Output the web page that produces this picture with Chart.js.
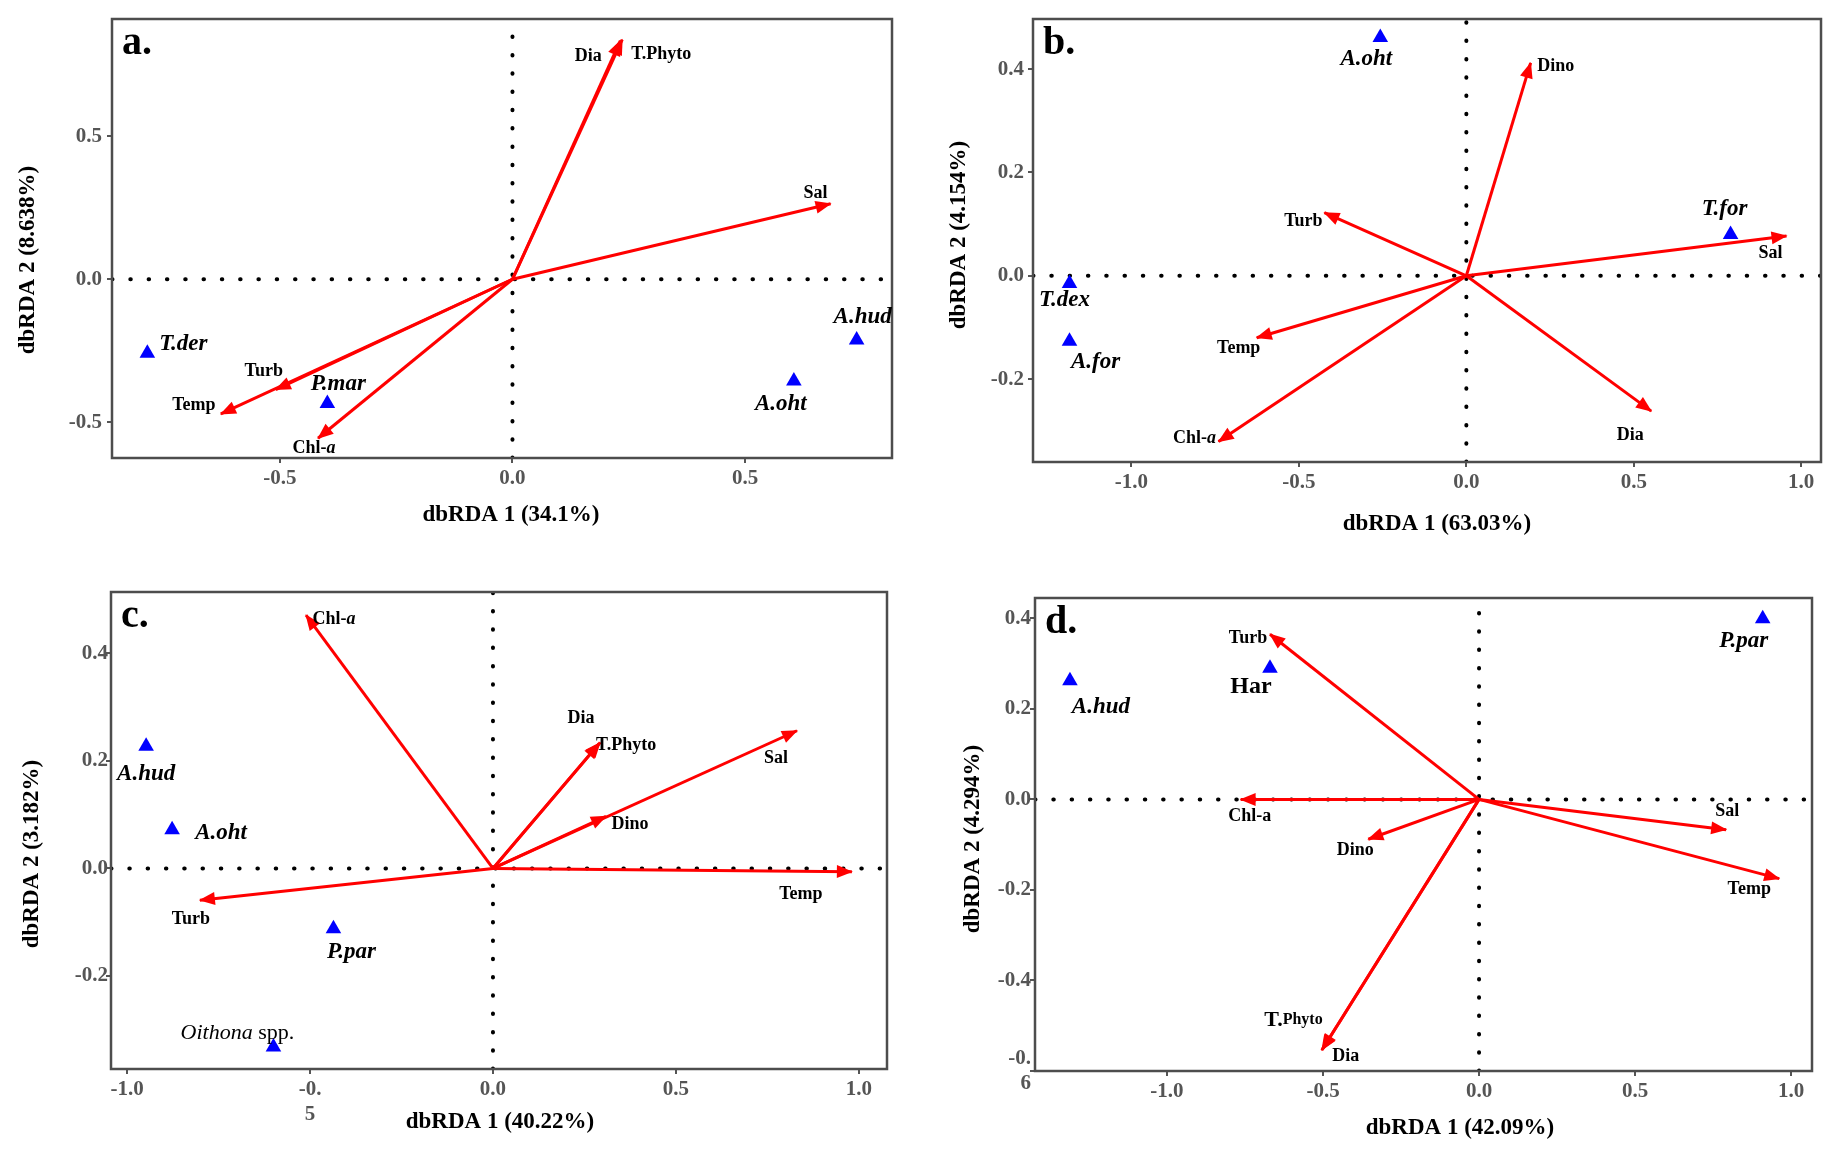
<!DOCTYPE html>
<html>
<head>
<meta charset="utf-8">
<script src="https://cdn.jsdelivr.net/npm/chart.js@4.4.0/dist/chart.umd.min.js"></script>
<style>
  html, body { margin: 0; padding: 0; background: #fff; overflow: hidden; }
  .panel { position: absolute; }
</style>
</head>
<body>
<div class="panel" id="pa" style="left:0px;top:0px;width:923px;height:560px"><canvas id="ca"></canvas></div>
<div class="panel" id="pb" style="left:923px;top:0px;width:924px;height:560px"><canvas id="cb"></canvas></div>
<div class="panel" id="pc" style="left:0px;top:560px;width:923px;height:595px"><canvas id="cc"></canvas></div>
<div class="panel" id="pd" style="left:923px;top:560px;width:924px;height:595px"><canvas id="cd"></canvas></div>
<script>
// ---- panel a ----
const aVarNames = ["Dia", "T.Phyto", "Sal", "Turb", "Temp", "Chl-a"];
const aVarX = [0.232, 0.236, 0.684, -0.509, -0.627, -0.418];
const aVarY = [0.834, 0.838, 0.264, -0.386, -0.471, -0.556];
const aSpNames = ["T.der", "P.mar", "A.oht", "A.hud"];
const aSpX = [-0.785, -0.398, 0.605, 0.740];
const aSpY = [-0.259, -0.434, -0.356, -0.212];
const aXTicks = [-0.5, 0, 0.5];
const aYTicks = [-0.5, 0, 0.5];
const aXRange = [-0.861, 0.816];
const aYRange = [-0.625, 0.910];

// ---- panel b ----
const bVarNames = ["Dino", "Turb", "Sal", "Temp", "Chl-a", "Dia"];
const bVarX = [0.192, -0.424, 0.956, -0.626, -0.740, 0.552];
const bVarY = [0.412, 0.122, 0.077, -0.120, -0.321, -0.262];
const bSpNames = ["A.oht", "T.for", "T.dex", "A.for"];
const bSpX = [-0.257, 0.789, -1.185, -1.185];
const bSpY = [0.461, 0.080, -0.015, -0.127];
const bXTicks = [-1, -0.5, 0, 0.5, 1];
const bYTicks = [-0.2, 0, 0.2, 0.4];
const bXRange = [-1.294, 1.059];
const bYRange = [-0.3605, 0.497];

// ---- panel c ----
const cVarNames = ["Chl-a", "Dia", "T.Phyto", "Sal", "Dino", "Temp", "Turb"];
const cVarX = [-0.511, 0.290, 0.293, 0.831, 0.309, 0.981, -0.801];
const cVarY = [0.471, 0.232, 0.234, 0.256, 0.097, -0.006, -0.059];
const cSpNames = ["A.hud", "A.oht", "P.par", "Oithona spp."];
const cSpX = [-0.948, -0.877, -0.436, -0.600];
const cSpY = [0.227, 0.072, -0.112, -0.332];
const cXTicks = [-1, -0.5, 0, 0.5, 1];
const cYTicks = [-0.2, 0, 0.2, 0.4];
const cXRange = [-1.044, 1.077];
const cYRange = [-0.373, 0.514];

// ---- panel d ----
const dVarNames = ["Turb", "Chl-a", "Dino", "Sal", "Temp", "T.Phyto", "Dia"];
const dVarX = [-0.670, -0.764, -0.355, 0.792, 0.962, -0.502, -0.504];
const dVarY = [0.365, 0.000, -0.088, -0.067, -0.175, -0.552, -0.554];
const dSpNames = ["A.hud", "Har", "P.par"];
const dSpX = [-1.311, -0.670, 0.909];
const dSpY = [0.262, 0.290, 0.399];
const dXTicks = [-1, -0.5, 0, 0.5, 1];
const dYTicks = [-0.6, -0.4, -0.2, 0, 0.2, 0.4];
const dXRange = [-1.423, 1.067];
const dYRange = [-0.600, 0.445];

const SERIF = '"Liberation Serif", "Times New Roman", serif';
const VAR_FONT = "bold 18px " + SERIF;
const SP_FONT = "italic bold 23px " + SERIF;
const TITLE_FONT = "bold 23px " + SERIF;

// label offsets from the point, in pixels (label centre)
const panels = [
  {
    canvas: "ca", cont: [0, 0, 923, 560], box: [112, 19, 892, 458],
    letter: "a.", xTitle: "dbRDA 1 (34.1%)", yTitle: "dbRDA 2 (8.638%)",
    xTitlePos: [511, 515], yTitlePos: [28, 260], yTickPad: 5,
    varNames: aVarNames, varX: aVarX, varY: aVarY,
    spNames: aSpNames, spX: aSpX, spY: aSpY,
    xTicks: aXTicks, yTicks: aYTicks, xRange: aXRange, yRange: aYRange,
    varOff: [[-32, 16], [39, 15], [-15, -10], [-12, -18], [-27, -9], [-4, 10]],
    spOff: [[36, -9], [11, -19], [-13, 23], [6, -23]],
    chlItalic: true, bigT: false, broken: {}
  },
  {
    canvas: "cb", cont: [923, 0, 924, 560], box: [1033, 19, 1821, 462],
    letter: "b.", xTitle: "dbRDA 1 (63.03%)", yTitle: "dbRDA 2 (4.154%)",
    xTitlePos: [1437, 524], yTitlePos: [959, 235], yTickPad: 4,
    varNames: bVarNames, varX: bVarX, varY: bVarY,
    spNames: bSpNames, spX: bSpX, spY: bSpY,
    xTicks: bXTicks, yTicks: bYTicks, xRange: bXRange, yRange: bYRange,
    varOff: [[25, 3], [-21, 9], [-16, 17], [-18, 11], [-24, -3], [-21, 24]],
    spOff: [[-14, 21], [-6, -25], [-5, 17], [26, 21]],
    chlItalic: true, bigT: false, broken: {}
  },
  {
    canvas: "cc", cont: [0, 560, 923, 595], box: [111, 592, 887, 1069],
    letter: "c.", xTitle: "dbRDA 1 (40.22%)", yTitle: "dbRDA 2 (3.182%)",
    xTitlePos: [500, 1122], yTitlePos: [32, 854], yTickPad: -2,
    varNames: cVarNames, varX: cVarX, varY: cVarY,
    spNames: cSpNames, spX: cSpX, spY: cSpY,
    xTicks: cXTicks, yTicks: cYTicks, xRange: cXRange, yRange: cYRange,
    varOff: [[28, 4], [-18, -25], [26, 3], [-21, 28], [24, 8], [-51, 23], [-9, 19]],
    spOff: [[0, 28], [49, 3], [18, 23], [-36, -14]],
    chlItalic: true, bigT: false, broken: { x: { "-0.5": ["-0.", "5"] } }
  },
  {
    canvas: "cd", cont: [923, 560, 924, 595], box: [1035, 598, 1812, 1071],
    letter: "d.", xTitle: "dbRDA 1 (42.09%)", yTitle: "dbRDA 2 (4.294%)",
    xTitlePos: [1460, 1128], yTitlePos: [973, 839], yTickPad: -1,
    varNames: dVarNames, varX: dVarX, varY: dVarY,
    spNames: dSpNames, spX: dSpX, spY: dSpY,
    xTicks: dXTicks, yTicks: dYTicks, xRange: dXRange, yRange: dYRange,
    varOff: [[-22, 4], [9, 17], [-13, 11], [1, -18], [-30, 11], [-29, -29], [24, 6]],
    spOff: [[31, 26], [-19, 19], [-19, 22]],
    chlItalic: false, bigT: true, broken: { y: { "-0.6": ["-0.", "6"] } }
  }
];

function varParts(name, p) {
  if (name === "Chl-a" && p.chlItalic) return [["Chl-", VAR_FONT], ["a", "italic bold 18px " + SERIF]];
  if (name === "T.Phyto" && p.bigT) return [["T.", "bold 22px " + SERIF], ["Phyto", "bold 16px " + SERIF]];
  return [[name, VAR_FONT]];
}

function spParts(name) {
  if (name === "Oithona spp.") return [["Oithona", "italic 22px " + SERIF], [" spp.", "22px " + SERIF]];
  if (name === "Har") return [["Har", "bold 24px " + SERIF]];
  return [[name, SP_FONT]];
}

function drawRich(ctx, parts, cx, cy) {
  let total = 0;
  parts.forEach(([t, f]) => { ctx.font = f; total += ctx.measureText(t).width; });
  let x = cx - total / 2;
  ctx.textAlign = "left";
  ctx.textBaseline = "middle";
  parts.forEach(([t, f]) => {
    ctx.font = f;
    ctx.fillText(t, x, cy);
    x += ctx.measureText(t).width;
  });
}

// arrow heads, frame, labels, panel letter and axis titles
const decor = {
  id: "decor",
  afterDatasetsDraw(chart) {
    const p = chart.options.plugins.decor.panel;
    const ctx = chart.ctx;
    const area = chart.chartArea;
    const sx = chart.scales.x, sy = chart.scales.y;
    chart.data.datasets.forEach((ds, i) => {
      if (!ds.isArrow) return;
      const pts = chart.getDatasetMeta(i).data;
      const a = pts[0], b = pts[1];
      const ang = Math.atan2(b.y - a.y, b.x - a.x);
      ctx.save();
      ctx.translate(b.x, b.y);
      ctx.rotate(ang);
      ctx.beginPath();
      ctx.moveTo(1, 0);
      ctx.lineTo(-15, -6.5);
      ctx.lineTo(-15, 6.5);
      ctx.closePath();
      ctx.fillStyle = "#ff0000";
      ctx.fill();
      ctx.restore();
    });
    ctx.save();
    ctx.strokeStyle = "#4d4d4d";
    ctx.lineWidth = 2.5;
    ctx.strokeRect(area.left, area.top, area.right - area.left, area.bottom - area.top);
    ctx.fillStyle = "#000";
    p.varNames.forEach((n, i) => {
      const x = sx.getPixelForValue(p.varX[i]) + p.varOff[i][0];
      const y = sy.getPixelForValue(p.varY[i]) + p.varOff[i][1];
      drawRich(ctx, varParts(n, p), x, y);
    });
    p.spNames.forEach((n, i) => {
      const x = sx.getPixelForValue(p.spX[i]) + p.spOff[i][0];
      const y = sy.getPixelForValue(p.spY[i]) + p.spOff[i][1];
      drawRich(ctx, spParts(n), x, y);
    });
    ctx.font = "bold 40px " + SERIF;
    ctx.textAlign = "left";
    ctx.textBaseline = "alphabetic";
    ctx.fillText(p.letter, area.left + 10, area.top + 35);
    ctx.font = TITLE_FONT;
    ctx.textAlign = "center";
    ctx.textBaseline = "middle";
    ctx.fillText(p.xTitle, p.xTitlePos[0] - p.cont[0], p.xTitlePos[1] - p.cont[1]);
    ctx.translate(p.yTitlePos[0] - p.cont[0], p.yTitlePos[1] - p.cont[1]);
    ctx.rotate(-Math.PI / 2);
    ctx.fillText(p.yTitle, 0, 0);
    ctx.restore();
  }
};

function tickFmt(map) {
  return (v) => {
    const s = Number(v).toFixed(1);
    return map && map[s] ? map[s] : s;
  };
}

function axis(ticks, range, brokenMap, pad, fitFn) {
  return {
    type: "linear",
    bounds: "data",
    min: range[0],
    max: range[1],
    afterBuildTicks: (s) => { s.ticks = ticks.map((v) => ({ value: v })); },
    afterFit: fitFn,
    ticks: {
      autoSkip: false, maxRotation: 0, minRotation: 0,
      padding: pad,
      color: "#555",
      font: { family: SERIF, size: 21, weight: "bold" },
      callback: tickFmt(brokenMap)
    },
    grid: { display: true, drawOnChartArea: false, drawTicks: true, tickLength: 5, color: "#555", lineWidth: 2 },
    border: { display: false },
    title: { display: false }
  };
}

panels.forEach((p) => {
  const [cx, cy, cw, ch] = p.cont;
  const [bl, bt, br, bb] = p.box;
  const datasets = [];
  datasets.push({
    data: p.spX.map((x, i) => ({ x: x, y: p.spY[i] })),
    pointStyle: "triangle", pointRadius: 9, pointHoverRadius: 9,
    backgroundColor: "#0000ff", borderColor: "#0000ff", borderWidth: 0,
    showLine: false, order: 0
  });
  p.varNames.forEach((n, i) => {
    datasets.push({
      label: n, isArrow: true,
      data: [{ x: 0, y: 0 }, { x: p.varX[i], y: p.varY[i] }],
      showLine: true, borderColor: "#ff0000", borderWidth: 3,
      pointRadius: 0, pointHoverRadius: 0, order: 1
    });
  });
  const dotted = { showLine: true, borderColor: "#000", borderWidth: 4, borderDash: [0.5, 17.8],
    borderCapStyle: "round", pointRadius: 0, pointHoverRadius: 0, order: 2 };
  datasets.push(Object.assign({ data: [{ x: p.xRange[0], y: 0 }, { x: p.xRange[1], y: 0 }] }, dotted));
  datasets.push(Object.assign({ data: [{ x: 0, y: p.yRange[0] }, { x: 0, y: p.yRange[1] }] }, dotted));

  new Chart(document.getElementById(p.canvas), {
    type: "scatter",
    data: { datasets: datasets },
    options: {
      responsive: true,
      maintainAspectRatio: false,
      animation: false,
      events: [],
      layout: { padding: { left: 0, right: cx + cw - br, top: bt - cy, bottom: 0 } },
      scales: {
        x: axis(p.xTicks, p.xRange, p.broken.x, 3, (s) => { s.height = cy + ch - bb; }),
        y: axis(p.yTicks, p.yRange, p.broken.y, p.yTickPad, (s) => { s.width = bl - cx; })
      },
      plugins: {
        legend: { display: false },
        tooltip: { enabled: false },
        decor: { panel: p }
      }
    },
    plugins: [decor]
  });
});
</script>
</body>
</html>
